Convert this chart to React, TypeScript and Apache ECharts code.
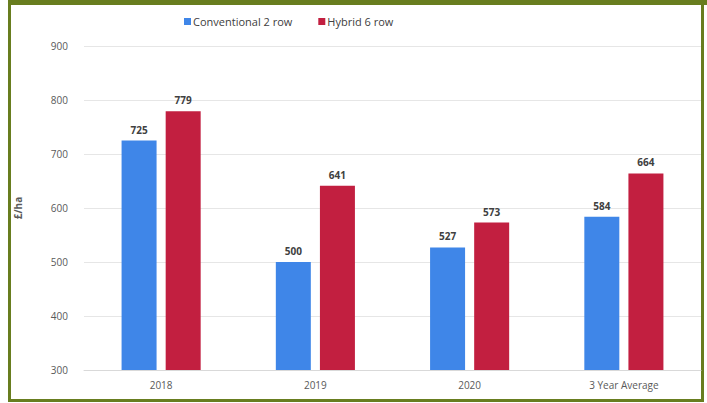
import React, { useEffect, useRef } from "react";
import * as echarts from "echarts";

const categories = ["2018", "2019", "2020", "3 Year Average"];
const conventional = [725, 500, 527, 584];
const hybrid = [779, 641, 573, 664];
const seriesNames = ["Conventional 2 row", "Hybrid 6 row"];

export default function App() {
  const ref = useRef<HTMLDivElement>(null);
  useEffect(() => {
    const chart = echarts.init(ref.current!, null, { renderer: "svg" });
    const green = "#687d1f";
    const font = "Open Sans";
    chart.setOption({
      animation: false,
      backgroundColor: "#ffffff",
      textStyle: { fontFamily: font },
      legend: {
        top: 11,
        left: 179,
        itemWidth: 7,
        itemHeight: 7,
        itemGap: 26,
        icon: "rect",
        textStyle: { fontSize: 11, color: "#404040", fontFamily: font, padding: [0, 0, 0, -3] },
        data: seriesNames,
      },
      grid: { left: 84, right: 6, top: 46, bottom: 33, containLabel: false },
      xAxis: {
        type: "category",
        data: categories,
        axisTick: { show: false },
        axisLine: { lineStyle: { color: "#d9d9d9" } },
        axisLabel: { color: "#595959", fontSize: 10, margin: 10, fontFamily: font },
      },
      yAxis: {
        type: "value",
        min: 300,
        max: 900,
        interval: 100,
        name: "£/ha",
        nameLocation: "middle",
        nameGap: 61,
        nameRotate: 90,
        nameTextStyle: { color: "#595959", fontSize: 10, fontWeight: "bold", fontFamily: font },
        axisLine: { show: false },
        axisTick: { show: false },
        axisLabel: { color: "#595959", fontSize: 10, margin: 16, fontFamily: font },
        splitLine: { lineStyle: { color: "#e6e6e6" } },
      },
      series: [
        {
          name: seriesNames[0],
          type: "bar",
          data: conventional,
          barWidth: 35,
          barGap: "26%",
          itemStyle: { color: "#3f86e8" },
          label: { show: true, position: "top", color: "#404040", fontSize: 10, fontWeight: "bold", distance: 6 },
        },
        {
          name: seriesNames[1],
          type: "bar",
          data: hybrid,
          barWidth: 35,
          itemStyle: { color: "#c21f40" },
          label: { show: true, position: "top", color: "#404040", fontSize: 10, fontWeight: "bold", distance: 6 },
        },
      ],
      graphic: [
        { type: "rect", silent: true, shape: { x: 8, y: 0, width: 699, height: 5 }, style: { fill: green } },
        { type: "rect", silent: true, shape: { x: 8, y: 0, width: 3, height: 402 }, style: { fill: green } },
        { type: "rect", silent: true, shape: { x: 701, y: 0, width: 3, height: 402 }, style: { fill: green } },
        { type: "rect", silent: true, shape: { x: 8, y: 399, width: 696, height: 3 }, style: { fill: green } },
      ],
    });
    return () => chart.dispose();
  }, []);
  return (
    <div
      ref={ref}
      style={{ position: "fixed", left: 0, top: 0, width: 707, height: 403 }}
    />
  );
}
